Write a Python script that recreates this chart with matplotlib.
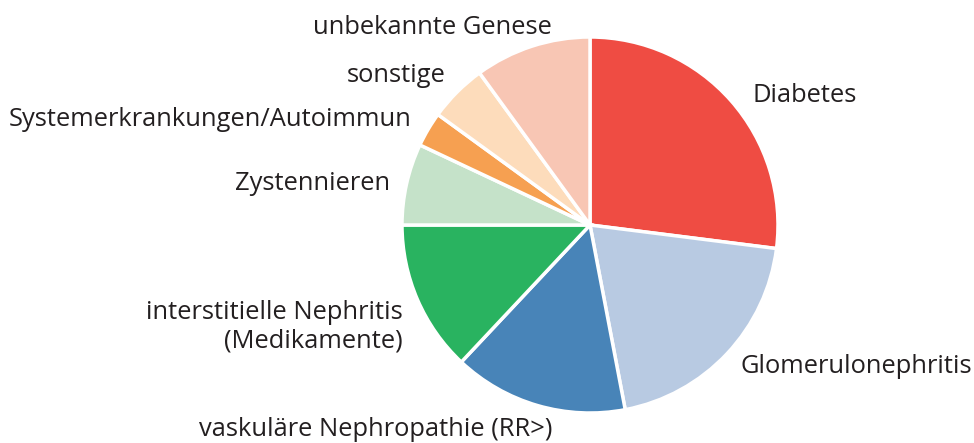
import matplotlib
matplotlib.use("Agg")
import matplotlib.pyplot as plt

categories = ["Diabetes", "Glomerulonephritis", "vaskuläre Nephropathie (RR>)",
              "interstitielle Nephritis\n(Medikamente)", "Zystennieren",
              "Systemerkrankungen/Autoimmun", "sonstige", "unbekannte Genese"]
values = [27, 20, 15, 13, 7, 3, 5, 10]
colors = ["#EF4C43", "#B8CAE2", "#4884B8", "#29B360", "#C5E2C9",
          "#F6A051", "#FDDCBB", "#F8C6B4"]

# label anchor positions (in pie-radius units) and alignment
label_pos = [(0.867, 0.69, "left"), (0.803, -0.755, "left"), (-1.138, -1.09, "center"),
             (-0.995, -0.54, "right"), (-1.064, 0.223, "right"), (-0.947, 0.559, "right"),
             (-0.766, 0.793, "right"), (-0.202, 1.053, "right")]

W, H = 974, 443
cx, cy, R = 590, 225, 188
fig = plt.figure(figsize=(W / 100, H / 100), dpi=100)
ax = fig.add_axes([0, 0, 1, 1])
ax.pie(values, colors=colors, startangle=90, counterclock=False, radius=1,
       wedgeprops=dict(edgecolor="white", linewidth=2.5))
ax.set_xlim(-cx / R, (W - cx) / R)
ax.set_ylim(-(H - cy) / R, cy / R)
ax.set_aspect("equal")
ax.axis("off")

for lab, (x, y, ha) in zip(categories, label_pos):
    ax.text(x, y, lab, ha=ha, va="center", fontsize=18.4, family="Open Sans",
            color="#231F20", multialignment="right", linespacing=1.2)

fig.savefig("out.png", dpi=100)
